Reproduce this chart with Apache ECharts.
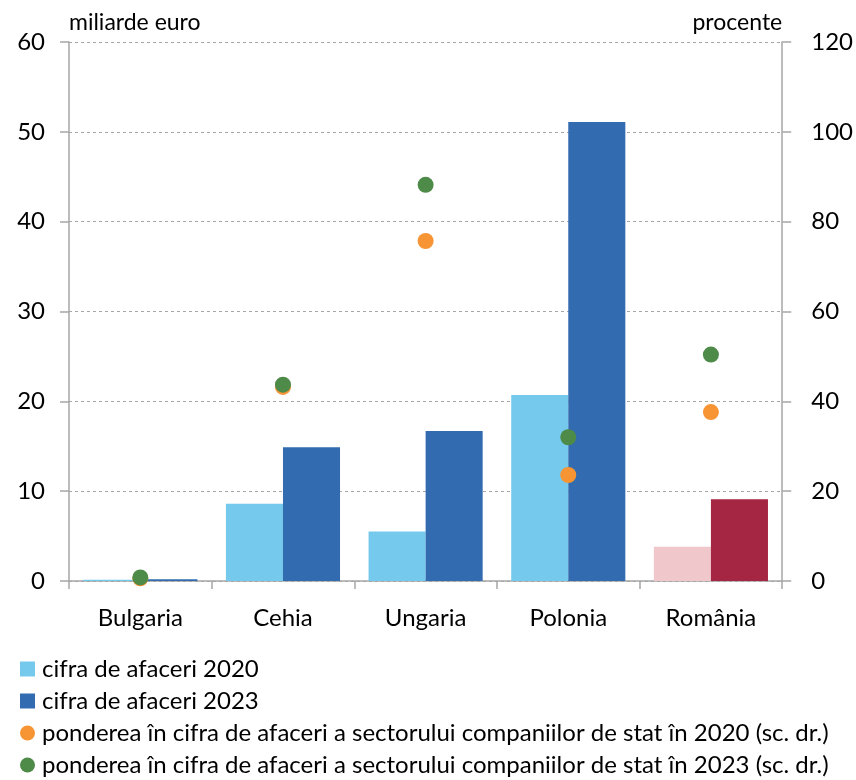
<!DOCTYPE html>
<html><head><meta charset="utf-8">
<script src="https://cdn.jsdelivr.net/npm/echarts@6/dist/echarts.min.js"></script>
<style>html,body{margin:0;padding:0;background:#fff}#c{width:856px;height:780px}</style>
</head><body><div id="c"></div>
<script>
const categories = ['Bulgaria','Cehia','Ungaria','Polonia','România'];
const turnover2020 = [0.15, 8.6, 5.5, 20.7, 3.8];
const turnover2023 = [0.2, 14.9, 16.7, 51.1, 9.1];
const share2020 = [0.6, 43.2, 75.7, 23.6, 37.6];
const share2023 = [0.8, 43.7, 88.2, 32.0, 50.4];
const leftTicks = [0, 60, 10];
const rightTicks = [0, 120, 20];
const seriesNames = ['cifra de afaceri 2020','cifra de afaceri 2023',
 'ponderea în cifra de afaceri a sectorului companiilor de stat în 2020 (sc. dr.)',
 'ponderea în cifra de afaceri a sectorului companiilor de stat în 2023 (sc. dr.)'];

const FONT = 'Lato, "Open Sans", sans-serif';
const FS = 23;
const c2020 = '#75C9EC', c2023 = '#326BB0', r2020 = '#F0C8CC', r2023 = '#A52643';
const cOrange = '#F79433', cGreen = '#4E8A48';
const hl = 'România';

const chart = echarts.init(document.getElementById('c'), null, {renderer:'canvas'});
chart.setOption({
  animation:false,
  textStyle:{fontFamily:FONT},
  grid:{left:69,right:73,top:42,bottom:199,containLabel:false},
  legend:{
    orient:'vertical',left:20,top:657,height:130,itemGap:8,itemWidth:15,itemHeight:15,padding:0,
    textStyle:{fontFamily:FONT,fontSize:24,lineHeight:23,color:'#000',padding:[0,0,0,2]},
    data:[
      {name:seriesNames[0],icon:'rect',itemStyle:{color:c2020}},
      {name:seriesNames[1],icon:'rect',itemStyle:{color:c2023}},
      {name:seriesNames[2],icon:'circle',itemStyle:{color:cOrange}},
      {name:seriesNames[3],icon:'circle',itemStyle:{color:cGreen}}
    ]
  },
  xAxis:{
    type:'category',data:categories,boundaryGap:true,
    axisLine:{lineStyle:{color:'#a6a6a6',width:1.5}},
    axisTick:{show:true,length:8,lineStyle:{color:'#a6a6a6',width:1.5}},
    axisLabel:{color:'#000',fontSize:FS+1,margin:25,fontFamily:FONT}
  },
  yAxis:[
    {type:'value',min:leftTicks[0],max:leftTicks[1],interval:leftTicks[2],
     name:'miliarde euro',nameLocation:'end',nameGap:8,
     nameTextStyle:{align:'left',color:'#000',fontSize:FS,fontFamily:FONT},
     axisLine:{show:true,lineStyle:{color:'#a6a6a6',width:1.5}},
     axisTick:{show:true,length:9,lineStyle:{color:'#a6a6a6',width:1.5}},
     axisLabel:{color:'#000',fontSize:FS+1,margin:24,fontFamily:FONT},
     splitLine:{show:true,lineStyle:{color:'#a6a6a6',type:[3,3],width:1}}},
    {type:'value',min:rightTicks[0],max:rightTicks[1],interval:rightTicks[2],position:'right',
     name:'procente',nameLocation:'end',nameGap:8,
     nameTextStyle:{align:'right',color:'#000',fontSize:FS,fontFamily:FONT},
     axisLine:{show:true,lineStyle:{color:'#a6a6a6',width:1.5}},
     axisTick:{show:true,length:9,lineStyle:{color:'#a6a6a6',width:1.5}},
     axisLabel:{color:'#000',fontSize:FS+1,margin:29,fontFamily:FONT},
     splitLine:{show:false}}
  ],
  series:[
    {name:seriesNames[0],type:'bar',barWidth:'40%',barGap:'0%',yAxisIndex:0,
     itemStyle:{color:c2020},
     data:turnover2020.map((v,i)=>categories[i]===hl?{value:v,itemStyle:{color:r2020}}:v)},
    {name:seriesNames[1],type:'bar',barWidth:'40%',barGap:'0%',yAxisIndex:0,
     itemStyle:{color:c2023},
     data:turnover2023.map((v,i)=>categories[i]===hl?{value:v,itemStyle:{color:r2023}}:v)},
    {name:seriesNames[2],type:'scatter',yAxisIndex:1,symbol:'circle',symbolSize:16,z:5,
     itemStyle:{color:cOrange,opacity:1},data:share2020},
    {name:seriesNames[3],type:'scatter',yAxisIndex:1,symbol:'circle',symbolSize:16,z:6,
     itemStyle:{color:cGreen,opacity:1},data:share2023}
  ]
});
</script></body></html>
